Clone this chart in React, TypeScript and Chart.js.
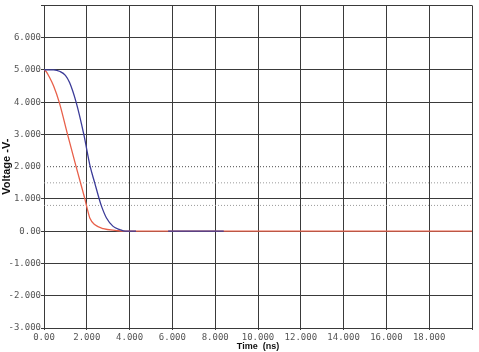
import React, { useEffect, useRef } from "react";
import { Chart, registerables } from "chart.js";

Chart.register(...registerables);

// Red trace (time ns, volts)
const redTime = [0, 0.1, 0.25, 0.45, 0.71, 1.1, 1.5, 1.91, 2.02, 2.14, 2.38, 2.77, 3.39, 3.7, 20];
const redVolt = [5.0, 4.95, 4.78, 4.5, 4.0, 3.0, 2.0, 1.0, 0.7, 0.41, 0.2, 0.08, 0.02, 0.0, 0.0];

// Blue trace (null = gap)
const blueTime = [0, 0.45, 0.75, 1.0, 1.2, 1.5, 1.86, 2.16, 2.37, 2.58, 2.69, 2.92, 3.23, 3.54, 3.8, 4.3, 5.0, 5.8, 8.4];
const blueVolt: (number | null)[] = [5.0, 5.0, 4.95, 4.83, 4.6, 4.0, 3.0, 2.0, 1.5, 1.0, 0.77, 0.41, 0.15, 0.05, 0.0, 0.0, null, 0.0, 0.0];

// Threshold levels (dotted)
const thresholdLevels = [2.0, 1.5, 0.8];
const thresholdColors = ["#4a4a4a", "#9a9a9a", "#9a9a9a"];

const xRange = [0, 20];
const yRange = [-3, 7];

const fmt = (v: number) => (v === 0 ? "0.00" : v.toFixed(3));

export default function App() {
  const ref = useRef<HTMLCanvasElement | null>(null);
  useEffect(() => {
    if (!ref.current) return;
    const tickFont = { family: "'DejaVu Sans Mono', monospace", size: 9 };
    const xTitleFont = { family: "'Liberation Sans', Arial, sans-serif", size: 9, weight: "bold" as const };
    const yTitleFont = { family: "'Liberation Sans', Arial, sans-serif", size: 11, weight: "bold" as const };
    const chart = new Chart(ref.current, {
      type: "line",
      data: {
        datasets: [
          ...thresholdLevels.map((lv, i) => ({
            data: [{ x: xRange[0], y: lv }, { x: xRange[1], y: lv }],
            borderColor: thresholdColors[i],
            borderWidth: 1,
            borderDash: [1, 2],
            pointRadius: 0,
            order: 3,
          })),
          {
            data: redTime.map((t, i) => ({ x: t, y: redVolt[i] })),
            borderColor: "#e8604a",
            borderWidth: 1.3,
            pointRadius: 0,
            cubicInterpolationMode: "monotone" as const,
            order: 2,
          },
          {
            data: blueTime.map((t, i) => ({ x: t, y: blueVolt[i] })),
            borderColor: "#3b3b98",
            borderWidth: 1.3,
            pointRadius: 0,
            cubicInterpolationMode: "monotone" as const,
            spanGaps: false,
            order: 1,
          },
        ],
      },
      options: {
        responsive: false,
        animation: false,
        layout: { padding: { top: 4, right: 7, left: 0, bottom: 0 } },
        plugins: { legend: { display: false }, tooltip: { enabled: false } },
        scales: {
          x: {
            type: "linear",
            min: xRange[0],
            max: xRange[1],
            afterFit: (s: any) => { s.height = 24; },
            ticks: {
              stepSize: 2,
              font: tickFont,
              color: "#555",
              padding: 2,
              maxRotation: 0,
              autoSkip: false,
              callback: (v: any) => (Number(v) >= xRange[1] ? "" : fmt(Number(v))),
            },
            grid: { color: "#3a3a3a", lineWidth: 1, tickLength: 2 },
            border: { color: "#3a3a3a" },
            title: {
              display: true,
              text: "Time  (ns)",
              font: xTitleFont,
              color: "#111",
              padding: { top: 0, bottom: 0 },
            },
          },
          y: {
            type: "linear",
            min: yRange[0],
            max: yRange[1],
            afterFit: (s: any) => { s.width = 44; },
            ticks: {
              stepSize: 1,
              font: tickFont,
              color: "#555",
              padding: 0,
              autoSkip: false,
              callback: (v: any) => (Number(v) >= yRange[1] ? "" : fmt(Number(v))),
            },
            grid: {
              color: (c: any) => (c.tick && c.tick.value === 2 ? "rgba(0,0,0,0)" : "#3a3a3a"),
              lineWidth: 1,
              tickLength: 3,
            },
            border: { color: "#3a3a3a" },
            title: {
              display: true,
              text: "Voltage -V-",
              font: yTitleFont,
              color: "#111",
              padding: { top: 0, bottom: 0 },
            },
          },
        },
      },
    });
    return () => chart.destroy();
  }, []);
  return (
    <div style={{ position: "fixed", left: 0, top: 0, width: 479, height: 352, background: "#fff" }}>
      <canvas ref={ref} width={479} height={352} style={{ display: "block" }} />
    </div>
  );
}
